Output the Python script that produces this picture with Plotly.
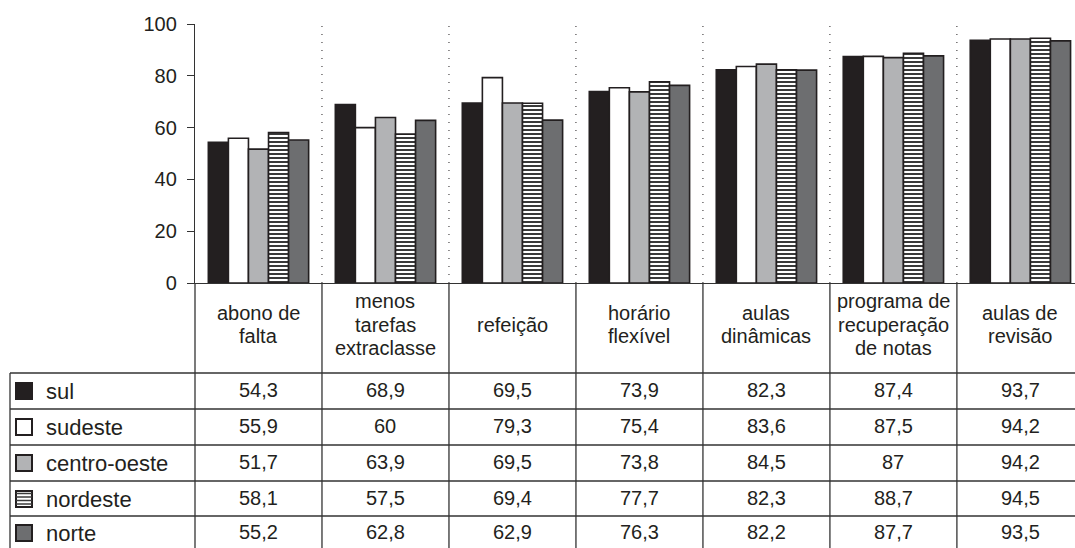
import plotly.graph_objects as go

categories = ["abono de falta", "menos tarefas extraclasse", "refeição", "horário flexível",
              "aulas dinâmicas", "programa de recuperação de notas", "aulas de revisão"]
header_lines = [["abono de", "falta"], ["menos", "tarefas", "extraclasse"], ["refeição"],
                ["horário", "flexível"], ["aulas", "dinâmicas"],
                ["programa de", "recuperação", "de notas"], ["aulas de", "revisão"]]
series_names = ["sul", "sudeste", "centro-oeste", "nordeste", "norte"]
sul = [54.3, 68.9, 69.5, 73.9, 82.3, 87.4, 93.7]
sudeste = [55.9, 60, 79.3, 75.4, 83.6, 87.5, 94.2]
centro_oeste = [51.7, 63.9, 69.5, 73.8, 84.5, 87, 94.2]
nordeste = [58.1, 57.5, 69.4, 77.7, 82.3, 88.7, 94.5]
norte = [55.2, 62.8, 62.9, 76.3, 82.2, 87.7, 93.5]
series_values = [sul, sudeste, centro_oeste, nordeste, norte]
y_ticks = [0, 20, 40, 60, 80, 100]

# styles
DARK = "#231f20"
fills = ["#231f20", "#ffffff", "#b2b3b5", "#ffffff", "#6d6e70"]
FONT = "Liberation Sans, Arial, sans-serif"

# layout geometry (pixels)
W, H = 1075, 548
PL, PT = 195, 24
PW = W - PL
PH = 283 - PT
def px(x):
    return (x - PL) / PW
def py(y):
    return (PT + PH - y) / PH

fig = go.Figure()
for i, (name, vals) in enumerate(zip(series_names, series_values)):
    kw = {}
    if name == "nordeste":
        kw = dict(pattern=dict(shape="-", bgcolor="#ffffff", fgcolor="#3a3a3a",
                               size=4, solidity=0.5, fillmode="replace"))
    fig.add_trace(go.Bar(
        x=list(range(len(categories))), y=vals, name=name,
        marker=dict(color=fills[i], line=dict(color=DARK, width=1.6), **kw),
        showlegend=False, hoverinfo="x+y+name"))

shapes = []
annotations = []
n = len(categories)
# dotted separators inside plot and solid table column lines
for i in range(n - 1):
    shapes.append(dict(type="line", xref="x", yref="paper", x0=i + 0.5, x1=i + 0.5, y0=0, y1=1,
                       line=dict(color=DARK, width=1, dash="1px,7px")))
    shapes.append(dict(type="line", xref="x", yref="paper", x0=i + 0.5, x1=i + 0.5,
                       y0=py(283), y1=py(H + 2), line=dict(color="#333333", width=1.3)))
# y-axis extension down through table
shapes.append(dict(type="line", xref="paper", yref="paper", x0=0, x1=0, y0=py(283), y1=py(H + 2),
                   line=dict(color="#333333", width=1.3)))
# legend column left border
shapes.append(dict(type="line", xref="paper", yref="paper", x0=px(10), x1=px(10), y0=py(373), y1=py(H + 2),
                   line=dict(color="#333333", width=1.3)))
row_lines = [373, 409, 445, 481, 516]
for yl in row_lines:
    shapes.append(dict(type="line", xref="paper", yref="paper", x0=px(10), x1=1, y0=py(yl), y1=py(yl),
                       line=dict(color="#333333", width=1.3)))
row_centers = [390, 426, 462, 498, 532]

# header labels
line_gap = 23.5
for i, lines in enumerate(header_lines):
    k = len(lines)
    for j, t in enumerate(lines):
        yc = 324.5 + (j - (k - 1) / 2) * line_gap
        annotations.append(dict(xref="x", yref="paper", x=i, y=py(yc), text=t, showarrow=False,
                                xanchor="center", yanchor="middle",
                                font=dict(family=FONT, size=20, color=DARK)))

def fmt(v):
    return str(int(v)) if float(v).is_integer() else str(v).replace(".", ",")

# table values & legend
for r, (name, vals) in enumerate(zip(series_names, series_values)):
    yc = row_centers[r]
    for i, v in enumerate(vals):
        annotations.append(dict(xref="x", yref="paper", x=i, y=py(yc), text=fmt(v), showarrow=False,
                                xanchor="center", yanchor="middle",
                                font=dict(family=FONT, size=20, color=DARK)))
    annotations.append(dict(xref="paper", yref="paper", x=px(44), y=py(yc + 1.5), text=name, showarrow=False,
                            xanchor="left", yanchor="middle",
                            font=dict(family=FONT, size=22, color=DARK)))
    # legend square
    s0, s1 = 16, 32
    shapes.append(dict(type="rect", xref="paper", yref="paper", x0=px(s0), x1=px(s1),
                       y0=py(yc - 7), y1=py(yc + 9), fillcolor=fills[r],
                       line=dict(color=DARK, width=2)))
    if name == "nordeste":
        for k in range(4):
            yy = yc - 4.5 + k * 3.5
            shapes.append(dict(type="line", xref="paper", yref="paper", x0=px(s0), x1=px(s1),
                               y0=py(yy), y1=py(yy), line=dict(color="#3a3a3a", width=1.5)))

fig.update_layout(
    width=W, height=H,
    margin=dict(l=PL, r=0, t=PT, b=H - 283, pad=0),
    paper_bgcolor="white", plot_bgcolor="white",
    barmode="group", bargap=0.21, bargroupgap=0,
    showlegend=False,
    shapes=shapes, annotations=annotations,
    xaxis=dict(range=[-0.5, n - 0.57], showticklabels=False, ticks="", showgrid=False,
               zeroline=False, showline=True, linecolor="#333333", linewidth=1.3, fixedrange=True),
    yaxis=dict(range=[0, 100], tickvals=y_ticks, ticks="outside", ticklen=7, tickcolor="#333333",
               tickwidth=1.3, showgrid=False, zeroline=False, showline=True, linecolor="#333333",
               linewidth=1.3, ticklabelstandoff=6,
               tickfont=dict(family=FONT, size=20, color=DARK), fixedrange=True),
)

fig.write_html("out.html", config={"displayModeBar": False},
               post_script="document.body.style.margin='0';document.body.style.overflow='hidden';")
